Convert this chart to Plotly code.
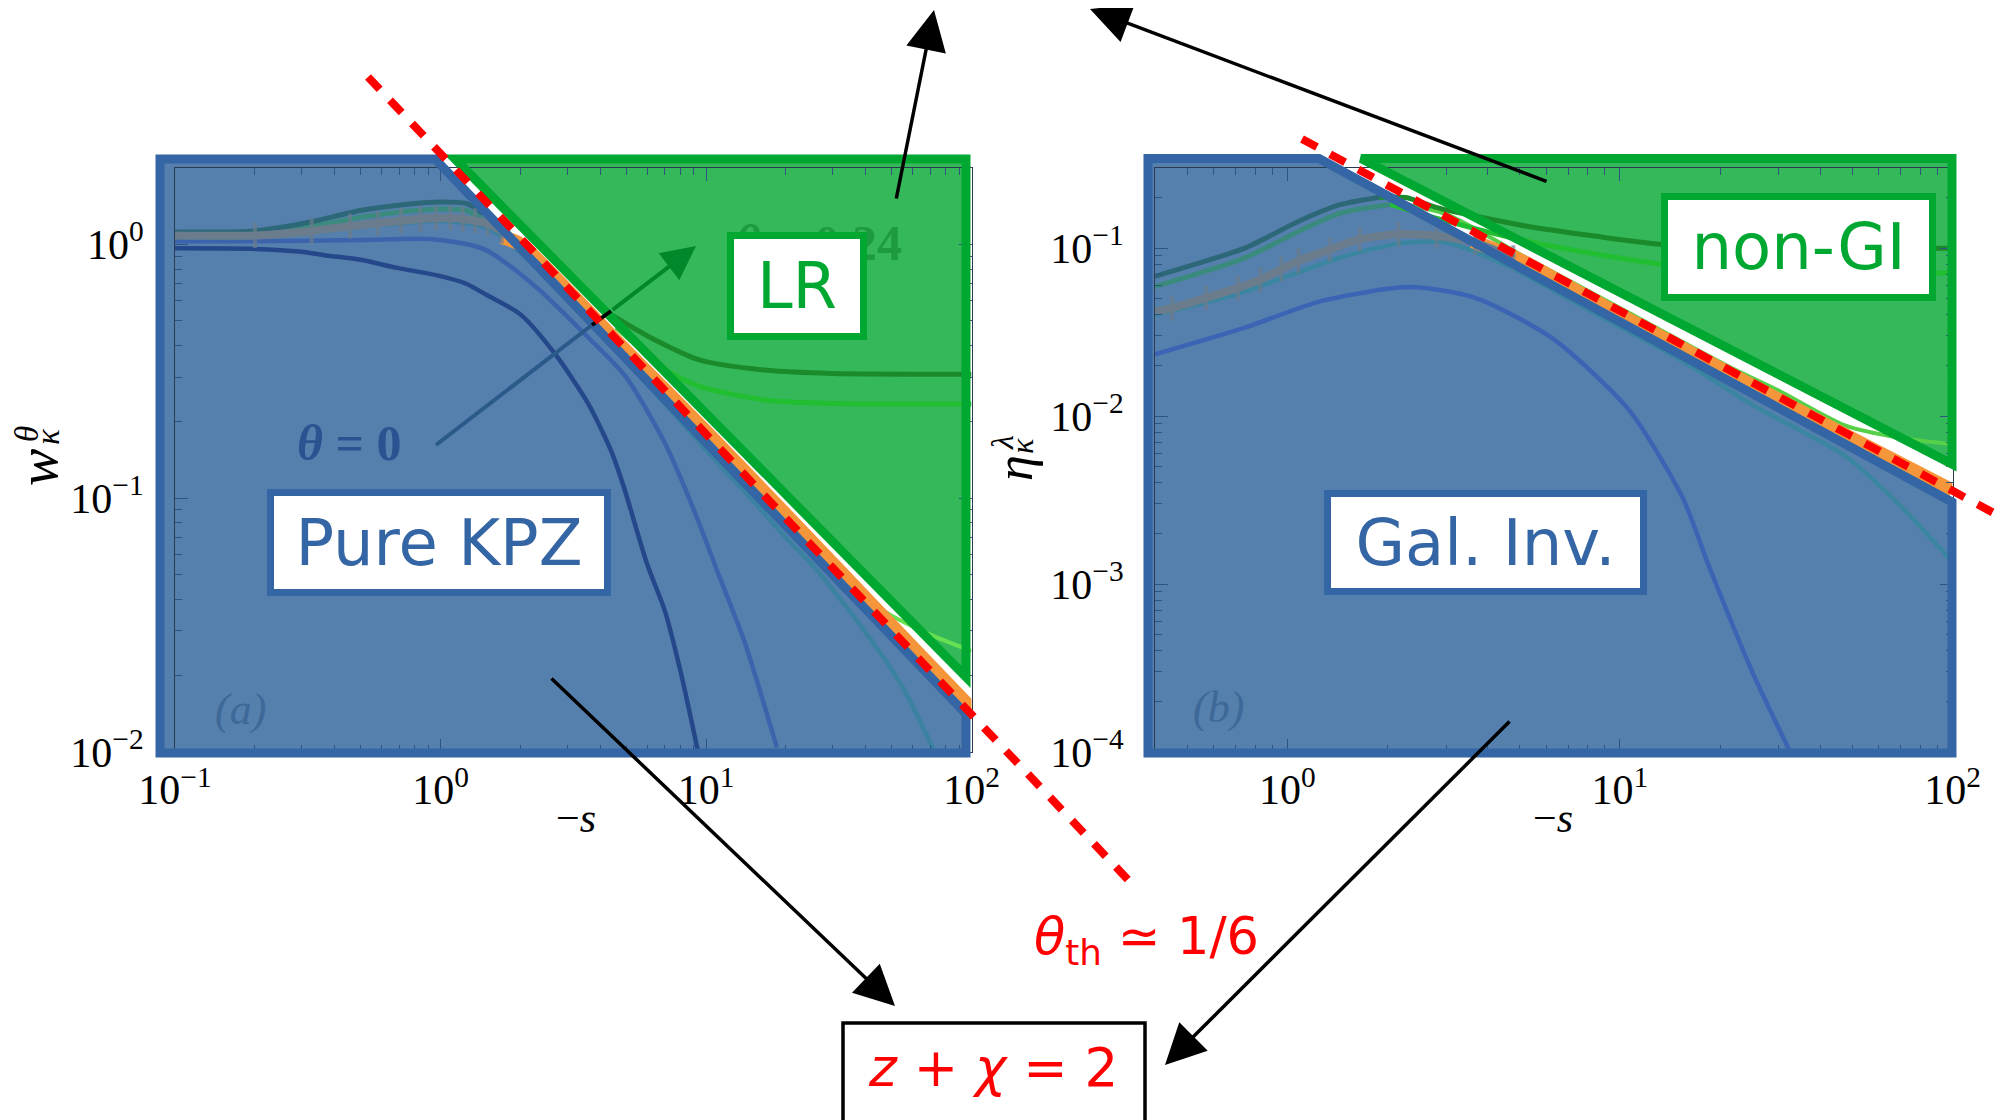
import plotly.graph_objects as go

W, H = 2010, 1120
OFF = 8  # page body margin of the html page


def px(x):
    return (x - OFF) / W


def py(y):
    return 1 - (y - OFF) / H


# ---------------- panel (a): w_kappa^theta vs -s ----------------
a_theta0_x = [0.1, 0.2, 0.3, 0.37, 0.5, 0.68, 1.0, 1.25, 1.5, 2.0, 2.7, 3.6, 4.4, 4.9, 6.0, 7.0, 8.0, 9.3]
a_theta0_y = [0.965, 0.96, 0.935, 0.905, 0.87, 0.81, 0.75, 0.70, 0.63, 0.53, 0.37, 0.236, 0.153, 0.111, 0.055, 0.036, 0.021, 0.0102]
a_blue_x = [0.1, 0.2, 0.5, 0.92, 1.45, 2.29, 3.6, 5.0, 7.0, 9.0, 11.0, 14.0, 18.5]
a_blue_y = [1.03, 1.03, 1.04, 1.05, 0.96, 0.68, 0.43, 0.30, 0.165, 0.09, 0.052, 0.027, 0.0104]
a_teal_x = [0.1, 0.2, 0.5, 1.0, 1.5, 2.0, 3.0, 5.0, 10.0, 15.0, 20.0, 26.2, 40.5, 55.0, 72.0]
a_teal_y = [1.07, 1.07, 1.17, 1.24, 1.16, 0.93, 0.62, 0.35, 0.155, 0.098, 0.07, 0.052, 0.029, 0.018, 0.0102]
a_grey_x = [0.1, 0.2, 0.327, 0.456, 0.58, 0.71, 0.84, 0.96, 1.09, 1.21, 1.35, 1.5, 1.7]
a_grey_y = [1.085, 1.085, 1.13, 1.18, 1.21, 1.24, 1.26, 1.27, 1.27, 1.26, 1.24, 1.21, 1.13]
a_top_x = [0.1, 0.2, 0.316, 0.5, 0.75, 1.0, 1.25, 1.45]
a_top_y = [1.12, 1.13, 1.22, 1.36, 1.44, 1.47, 1.45, 1.32]
a_second_x = [0.1, 0.2, 0.316, 0.5, 0.75, 1.0, 1.25, 1.45]
a_second_y = [1.10, 1.10, 1.17, 1.28, 1.35, 1.38, 1.36, 1.25]
a_top_lr_x = [4.37, 6.17, 9.5, 17.0, 30.0, 100.0]
a_top_lr_y = [0.53, 0.43, 0.35, 0.319, 0.31, 0.308]
a_second_lr_x = [4.6, 7.1, 9.5, 17.0, 30.0, 100.0]
a_second_lr_y = [0.472, 0.319, 0.275, 0.243, 0.236, 0.235]
a_th_x = [1.7, 2.0, 3.0, 5.0, 10.0, 20.0, 50.0, 100.0]
a_th_y = [1.07, 1.0, 0.66, 0.38, 0.183, 0.086, 0.0315, 0.0148]
a_lime_x = [10.0, 20.0, 35.0, 46.8, 70.0, 100.0]
a_lime_y = [0.19, 0.09, 0.048, 0.036, 0.029, 0.025]

# ---------------- panel (b): eta_kappa^lambda vs -s ----------------
b_blue_x = [0.4, 0.745, 1.27, 2.33, 3.67, 6.24, 10.6, 15.4, 18.6, 25.0, 32.5]
b_blue_y = [0.0233, 0.0336, 0.0485, 0.0586, 0.0506, 0.0292, 0.011, 0.0033, 0.00125, 0.0003, 0.0001]
b_teal_x = [0.4, 0.7, 1.0, 1.5, 2.2, 3.0, 4.5, 7.0, 10.0, 15.0, 25.3, 47.5, 70.0, 100.0]
b_teal_y = [0.040, 0.053, 0.068, 0.09, 0.107, 0.108, 0.08, 0.05, 0.034, 0.022, 0.0115, 0.0058, 0.0029, 0.00135]
b_grey_x = [0.4, 0.45, 0.57, 0.71, 0.83, 0.96, 1.08, 1.34, 1.65, 2.16, 2.81, 3.67, 4.78]
b_grey_y = [0.042, 0.044, 0.0506, 0.058, 0.065, 0.075, 0.084, 0.098, 0.113, 0.121, 0.118, 0.108, 0.0875]
b_top_x = [0.4, 0.57, 0.745, 1.11, 1.45, 1.89]
b_top_y = [0.068, 0.084, 0.1, 0.148, 0.182, 0.201]
b_top_lr_x = [1.89, 2.27, 2.8, 5.25, 8.4, 13.5, 30.0, 100.0]
b_top_lr_y = [0.201, 0.2, 0.175, 0.135, 0.118, 0.105, 0.1, 0.1]
b_second_x = [0.4, 0.745, 1.11, 1.45, 2.04]
b_second_y = [0.059, 0.0875, 0.129, 0.162, 0.182]
b_second_lr_x = [2.04, 2.8, 5.25, 13.5, 30.0, 100.0]
b_second_lr_y = [0.182, 0.151, 0.11, 0.08, 0.073, 0.071]
b_th_x = [3.6, 5.0, 7.0, 10.0, 20.0, 50.0, 100.0]
b_th_y = [0.11, 0.085, 0.059, 0.040, 0.0192, 0.0073, 0.0036]
b_lime_x = [2.27, 3.04, 5.0, 10.0, 21.6, 30.0, 47.5, 70.0, 100.0]
b_lime_y = [0.182, 0.158, 0.092, 0.044, 0.0194, 0.0142, 0.0088, 0.0074, 0.0068]

# ---------------- ticks ----------------
a_xtick_vals = [0.1, 1, 10, 100]
a_xtick_text = ["10<sup>−1</sup>", "10<sup>0</sup>", "10<sup>1</sup>", "10<sup>2</sup>"]
a_ytick_vals = [0.01, 0.1, 1]
a_ytick_text = ["10<sup>−2</sup>", "10<sup>−1</sup>", "10<sup>0</sup>"]
b_xtick_vals = [1, 10, 100]
b_xtick_text = ["10<sup>0</sup>", "10<sup>1</sup>", "10<sup>2</sup>"]
b_ytick_vals = [1e-4, 1e-3, 1e-2, 1e-1]
b_ytick_text = ["10<sup>−4</sup>", "10<sup>−3</sup>", "10<sup>−2</sup>", "10<sup>−1</sup>"]
minor_mult = [2, 3, 4, 5, 6, 7, 8, 9]
a_x_decades = [0.1, 1, 10]
a_y_decades = [0.01, 0.1, 1]
b_x_decades = [0.1, 1, 10]
b_y_decades = [1e-4, 1e-3, 1e-2, 1e-1]


def minors(decades, lo, hi):
    return [m * d for d in decades for m in minor_mult if lo <= m * d <= hi]


# colours
BLUE_FILL = "#5580ad"
BLUE_EDGE = "#3465a4"
GREEN_FILL = "#35b85a"
GREEN_EDGE = "#00a832"
GREY = "#6b7c8c"

fig = go.Figure()


def curve(xs, ys, color, width, ax, **kw):
    xa, ya = ("x", "y") if ax == "a" else ("x2", "y2")
    mode = kw.pop("mode", "lines")
    fig.add_trace(go.Scatter(x=xs, y=ys, mode=mode, xaxis=xa, yaxis=ya,
                             line=dict(color=color, width=width, shape="spline", smoothing=0.7),
                             showlegend=False, hoverinfo="skip", **kw))


# panel (a)
curve(a_theta0_x, a_theta0_y, "#24488a", 4.5, "a")
curve(a_blue_x, a_blue_y, "#3b64ad", 4.5, "a")
curve(a_teal_x, a_teal_y, "#3a82a0", 4.5, "a")
curve(a_lime_x, a_lime_y, "#66e050", 4, "a")
curve(a_th_x, a_th_y, "#f5963a", 14, "a")
curve(a_second_x, a_second_y, "#3a8a7d", 5, "a")
curve(a_top_x, a_top_y, "#2d6878", 5, "a")
curve(a_grey_x, a_grey_y, GREY, 8, "a", mode="lines+markers",
      marker=dict(symbol="line-ns", size=[0] + [18] * (len(a_grey_x) - 1),
                  line=dict(color=GREY, width=4)))
curve(a_second_lr_x, a_second_lr_y, "#20be30", 5, "a")
curve(a_top_lr_x, a_top_lr_y, "#1a8a2a", 5, "a")

# panel (b)
curve(b_blue_x, b_blue_y, "#3c64b4", 4.5, "b")
curve(b_teal_x, b_teal_y, "#3a86a0", 4.5, "b")
curve(b_lime_x, b_lime_y, "#55d048", 4, "b")
curve(b_th_x, b_th_y, "#f5963a", 14, "b")
curve(b_second_x, b_second_y, "#3a8a7d", 5, "b")
curve(b_top_x, b_top_y, "#2d6878", 5, "b")
curve(b_grey_x, b_grey_y, GREY, 8, "b", mode="lines+markers",
      marker=dict(symbol="line-ns", size=[0] + [18] * (len(b_grey_x) - 1),
                  line=dict(color=GREY, width=4)))
curve(b_second_lr_x, b_second_lr_y, "#20be30", 5, "b")
curve(b_top_lr_x, b_top_lr_y, "#1a8a2a", 5, "b")

# ---------------- axes ----------------
TICKCOL = "#2f5482"
tickfont = dict(family="Liberation Serif", size=42, color="black")


def axis(domain, rng, tv, tt, mv, standoff):
    return dict(type="log", domain=domain, range=rng, showgrid=False, zeroline=False,
                automargin=False, ticklabelstandoff=standoff,
                showline=True, linecolor="#2a3a50", linewidth=1, mirror="ticks",
                ticks="inside", ticklen=13, tickwidth=1, tickcolor=TICKCOL,
                tickmode="array", tickvals=tv, ticktext=tt, tickfont=tickfont,
                minor=dict(ticks="inside", ticklen=7, tickwidth=1, tickcolor=TICKCOL,
                           tickmode="array", tickvals=mv, showgrid=False))


YDOM = [py(752), py(168)]
fig.update_layout(
    template="none",
    xaxis=dict(axis([px(175), px(971.5)], [-1, 2], a_xtick_vals, a_xtick_text,
                    minors(a_x_decades, 0.1, 100), 1), anchor="y"),
    yaxis=dict(axis(YDOM, [-2, 0.30103], a_ytick_vals, a_ytick_text,
                    minors(a_y_decades, 0.01, 2), 22), anchor="x"),
    xaxis2=dict(axis([px(1155), px(1952.5)], [-0.39794, 2], b_xtick_vals, b_xtick_text,
                     minors(b_x_decades, 0.4, 100), 1), anchor="y2"),
    yaxis2=dict(axis(YDOM, [-4, -0.52288], b_ytick_vals, b_ytick_text,
                     minors(b_y_decades, 1e-4, 0.3), 22), anchor="x2"),
)


def poly(pts):
    return "M " + " L ".join(f"{px(x):.5f},{py(y):.5f}" for x, y in pts) + " Z"


blue_a = [(160, 159), (435, 159), (966, 714), (966, 753), (160, 753)]
green_a = [(455, 159), (966, 159), (966, 677)]
blue_b = [(1148, 158.5), (1319, 158.5), (1952, 502), (1952, 753), (1148, 753)]
green_b = [(1361, 158.5), (1952, 158.5), (1952, 464)]

shapes = []
for pts, fc in [(blue_a, BLUE_FILL), (green_a, GREEN_FILL), (blue_b, BLUE_FILL), (green_b, GREEN_FILL)]:
    shapes.append(dict(type="path", xref="paper", yref="paper", path=poly(pts),
                       fillcolor=fc, line=dict(width=0), layer="below"))
for pts, lc in [(blue_a, BLUE_EDGE), (green_a, GREEN_EDGE), (blue_b, BLUE_EDGE), (green_b, GREEN_EDGE)]:
    shapes.append(dict(type="path", xref="paper", yref="paper", path=poly(pts),
                       line=dict(color=lc, width=9), layer="above"))

# theta arrow (blue part + black piece)
shapes.append(dict(type="line", xref="paper", yref="paper", x0=px(436), y0=py(445), x1=px(592), y1=py(325),
                   line=dict(color="#2a5a8a", width=4), layer="above"))
shapes.append(dict(type="line", xref="paper", yref="paper", x0=px(592), y0=py(325), x1=px(611), y1=py(311),
                   line=dict(color="black", width=4), layer="above"))
# red dashed theta_th lines
for (x0, y0, x1, y1) in [(368, 77, 1133, 885), (1302, 139, 2014, 524)]:
    shapes.append(dict(type="line", xref="paper", yref="paper", x0=px(x0), y0=py(y0), x1=px(x1), y1=py(y1),
                       line=dict(color="#ff0000", width=8, dash="17px,15px"), layer="above"))
# z + chi box
shapes.append(dict(type="rect", xref="paper", yref="paper", x0=px(843), y0=py(1135), x1=px(1145), y1=py(1023),
                   line=dict(color="black", width=3.5), fillcolor="white", layer="above"))

fig.update_layout(shapes=shapes)

ann = []


def text(x, y, t, size, color, family="DejaVu Sans", **kw):
    ann.append(dict(x=px(x), y=py(y), xref="paper", yref="paper", text=t, showarrow=False,
                    font=dict(family=family, size=size, color=color), xanchor="center", yanchor="middle", **kw))


def arrow(tip, tail, color, width, size):
    ann.append(dict(x=px(tip[0]), y=py(tip[1]), xref="paper", yref="paper", text="",
                    showarrow=True, ax=tail[0] - tip[0], ay=tail[1] - tip[1],
                    arrowhead=2, arrowsize=size, arrowwidth=width, arrowcolor=color, standoff=0))


SERIF = "Liberation Serif"
text(818, 243, "<b><i>θ</i> = 0.24</b>", 50, "#1e9a40", SERIF)
text(349, 443, "<b><i>θ</i> = 0</b>", 50, "#2b5391", SERIF)
text(240, 709, "<i>(a)</i>", 44, "#3d6898", SERIF)
text(1218, 707, "<i>(b)</i>", 44, "#3d6898", SERIF)

# boxed labels
for (cx, cy, t, w, h, col) in [(439, 542.5, "Pure KPZ", 330, 93, BLUE_EDGE),
                                (796.7, 285.5, "LR", 126, 94, GREEN_EDGE),
                                (1485.6, 542.4, "Gal. Inv.", 309, 91, BLUE_EDGE),
                                (1798.7, 247.5, "non-GI", 261, 94, GREEN_EDGE)]:
    text(cx, cy, t, 64, col, bgcolor="white", bordercolor=col, borderwidth=7, borderpad=0,
         width=w, height=h)

# axis titles (rotated; super/subscripts stacked)
text(38, 468, "<i>w</i>", 56, "black", SERIF, textangle=-90)
text(27, 434, "<i>θ</i>", 33, "black", SERIF, textangle=-90)
text(48, 437, "<i>κ</i>", 33, "black", SERIF, textangle=-90)
text(1014, 468, "<i>η</i>", 52, "black", SERIF, textangle=-90)
text(1002, 443, "<i>λ</i>", 32, "black", SERIF, textangle=-90)
text(1022, 446, "<i>κ</i>", 32, "black", SERIF, textangle=-90)
text(576, 818, "−<i>s</i>", 42, "black", SERIF)
text(1553, 818, "−<i>s</i>", 42, "black", SERIF)

# red texts
text(1146, 940, "<i>θ</i><sub>th</sub> ≃ 1/6", 51, "#ff0000")
text(993, 1067, "<i>z</i> + <i>χ</i> = 2", 53, "#ff0000")

# arrows
arrow((696, 246), (611, 311), "#00882a", 4, 1.7)
arrow((895, 1006), (550, 677), "black", 3.5, 2.3)
arrow((1165, 1065), (1511, 720), "black", 3.5, 2.3)
arrow((934, 10), (896, 200), "black", 3.5, 2.3)
arrow((1090, 9), (1548, 182), "black", 3.5, 2.3)

fig.update_layout(annotations=ann, width=W, height=H, autosize=False,
                  margin=dict(l=0, r=0, t=0, b=0, pad=0),
                  paper_bgcolor="white", plot_bgcolor="rgba(0,0,0,0)")

fig.write_html("out.html")
